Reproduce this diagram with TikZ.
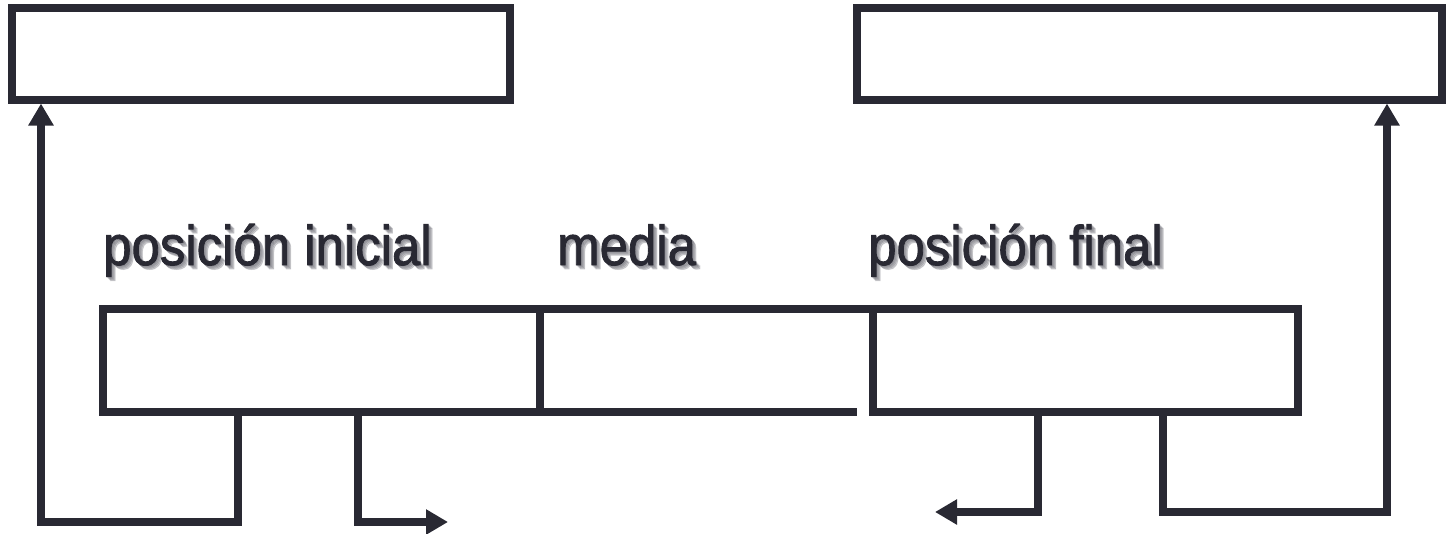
\documentclass[tikz,border=0pt]{standalone}
\usepackage{fontspec}
\setmainfont{Liberation Sans}
\newfontfamily\lblfont[FakeBold=1.6]{Liberation Sans}
\usetikzlibrary{arrows.meta,calc}
\definecolor{ink}{RGB}{41,41,51}
\definecolor{shade}{RGB}{120,120,128}
\tikzset{
  boxnode/.style={draw=ink,line width=8pt,inner sep=0pt,outer sep=0pt,anchor=north west,minimum height=#1},
  opennode/.style={inner sep=0pt,outer sep=0pt,anchor=north west},
  conn/.style={draw=ink,line width=8pt,line join=miter},
  tipped/.style={conn,-{Triangle[length=22pt,width=24pt]}},
  lbl/.style={inner sep=0pt,anchor=base west,text=ink,font=\lblfont\fontsize{56}{60}\selectfont},
  lblshadow/.style={inner sep=0pt,anchor=base west,text=shade,text opacity=0.3,font=\lblfont\fontsize{56}{60}\selectfont}
}
\newcommand{\shadowlabel}[4]{% name, x, y, text
  \foreach \d in {1,2,3,4}{\node[lblshadow] at ($(#2,#3)+(\d,\d)$) {\scalebox{0.91}[1]{#4}};}
  \node[lbl] (#1) at (#2,#3) {\scalebox{0.91}[1]{#4}};
}
\begin{document}
\begin{tikzpicture}[x=1pt,y=-1pt]
\useasboundingbox (0,0) rectangle (1446,533);
% top boxes
\node[boxnode=91.5pt,minimum width=498pt] (tl) at (12,8) {};
\node[boxnode=91.5pt,minimum width=585pt] (tr) at (857,8) {};
% bottom boxes
\node[boxnode=103pt,minimum width=437pt] (b1) at (103,309) {};
\node[opennode,minimum width=333pt,minimum height=103pt] (b2) at (540,309) {};
\node[boxnode=103pt,minimum width=425pt] (b3) at (873,309) {};
\draw[conn] (b2.north west) -- (b2.north east);
\draw[conn] (b2.south west) -- ($(b2.south east)+(-16,0)$);
% labels
\shadowlabel{l1}{103}{265}{posición inicial}
\shadowlabel{l2}{557}{265}{media}
\shadowlabel{l3}{868}{265}{posición final}
% connectors
\coordinate (s1) at ($(b1.south west)+(135,0)$);
\coordinate (s2) at ($(b1.south west)+(255,0)$);
\coordinate (s3) at ($(b3.south west)+(165,0)$);
\coordinate (s4) at ($(b3.south west)+(290,0)$);
\coordinate (c1) at (41,522);
\coordinate (e2) at (448,522);
\coordinate (e3) at (935,512);
\coordinate (c4) at (1387,512);
\draw[tipped] (s1) |- (c1) -- ($(c1 |- tl.south)+(0,4)$);
\draw[tipped] (s2) |- (e2);
\draw[tipped] (s3) |- (e3);
\draw[tipped] (s4) |- (c4) -- ($(c4 |- tr.south)+(0,4)$);
\end{tikzpicture}
\end{document}
